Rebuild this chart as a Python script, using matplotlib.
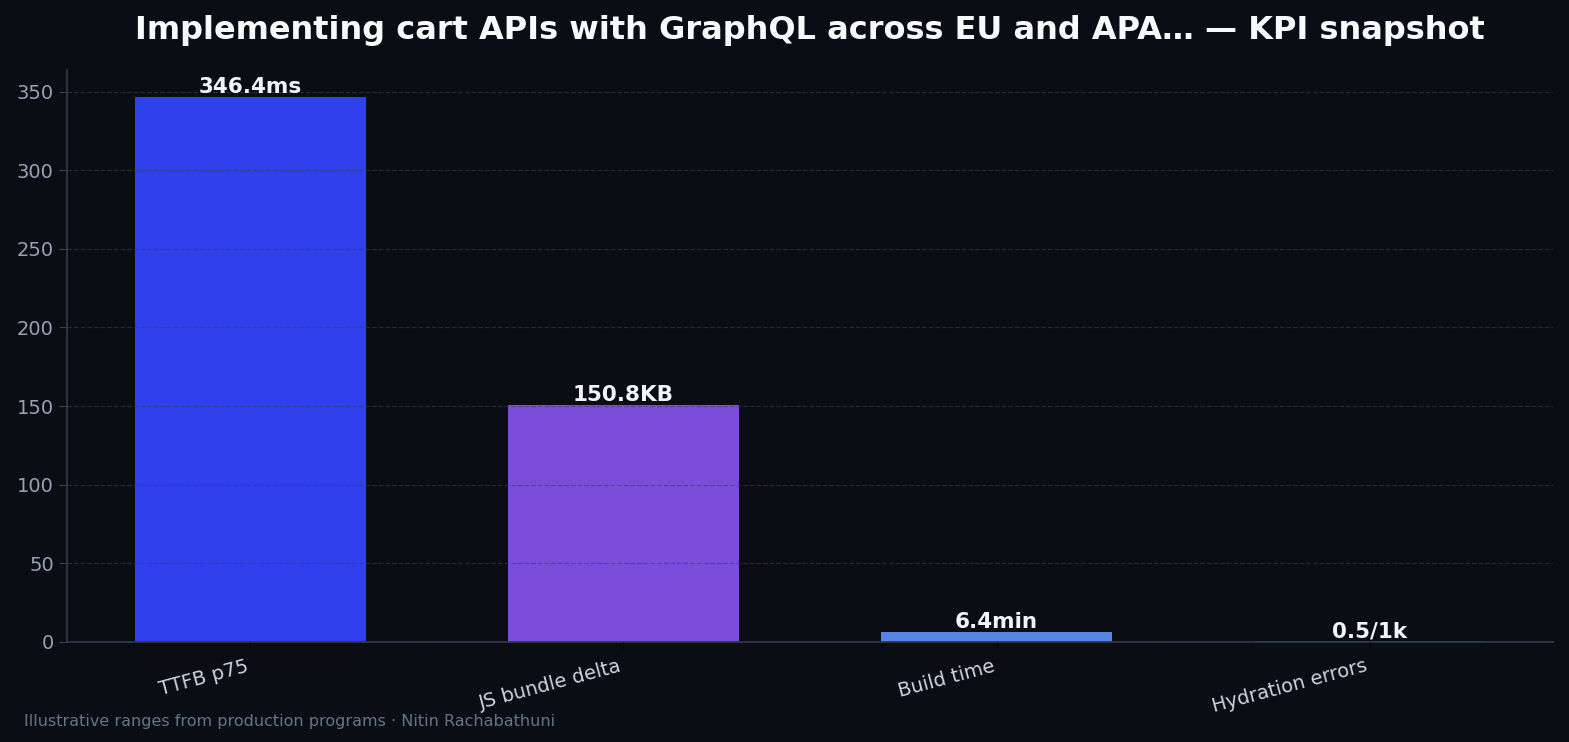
import matplotlib
matplotlib.use("Agg")
import matplotlib.pyplot as plt

# KPI snapshot data
kpis = ["TTFB p75", "JS bundle delta", "Build time", "Hydration errors"]
values = [346.4, 150.8, 6.4, 0.5]
value_labels = ["346.4ms", "150.8KB", "6.4min", "0.5/1k"]
bar_colors = ["#2f40ec", "#7c4ddb", "#5585e0", "#5b6ee1"]

bg = "#0a0d14"

fig = plt.figure(figsize=(15.69, 7.42), dpi=100, facecolor=bg)
ax = fig.add_axes([0.0427, 0.1348, 0.9471, 0.7709])
ax.set_facecolor(bg)

x = range(len(kpis))
bars = ax.bar(x, values, width=0.62, color=bar_colors)

for b, lab in zip(bars, value_labels):
  ax.text(b.get_x() + b.get_width() / 2, b.get_height(), lab,
          ha="center", va="bottom", color="#f1f5f9",
          fontsize=15.5, fontweight="bold")

ax.set_xticks(list(x))
ax.set_xticklabels(kpis, rotation=15, ha="right", fontsize=14, color="#cbd5e1")
ax.tick_params(axis="y", labelsize=14, labelcolor="#94a3b8", color="#334155", length=6)
ax.tick_params(axis="x", color="#05070a", length=5, pad=5.5)

ax.grid(axis="y", linestyle="--", color="#334155", alpha=0.55, linewidth=0.9)
ax.set_axisbelow(False)
ax.xaxis.grid(False)

for s in ["top", "right"]:
  ax.spines[s].set_visible(False)
for s in ["left", "bottom"]:
  ax.spines[s].set_color("#2e3848")
  ax.spines[s].set_linewidth(1.3)

ax.set_title("Implementing cart APIs with GraphQL across EU and APA\u2026 \u2014 KPI snapshot",
             color="#f8fafc", fontsize=23, fontweight="bold", pad=22)

fig.text(0.015, 0.022, "Illustrative ranges from production programs \u00b7 Nitin Rachabathuni",
         color="#64748b", fontsize=11.5)

fig.savefig("out.png", dpi=100, facecolor=bg)
